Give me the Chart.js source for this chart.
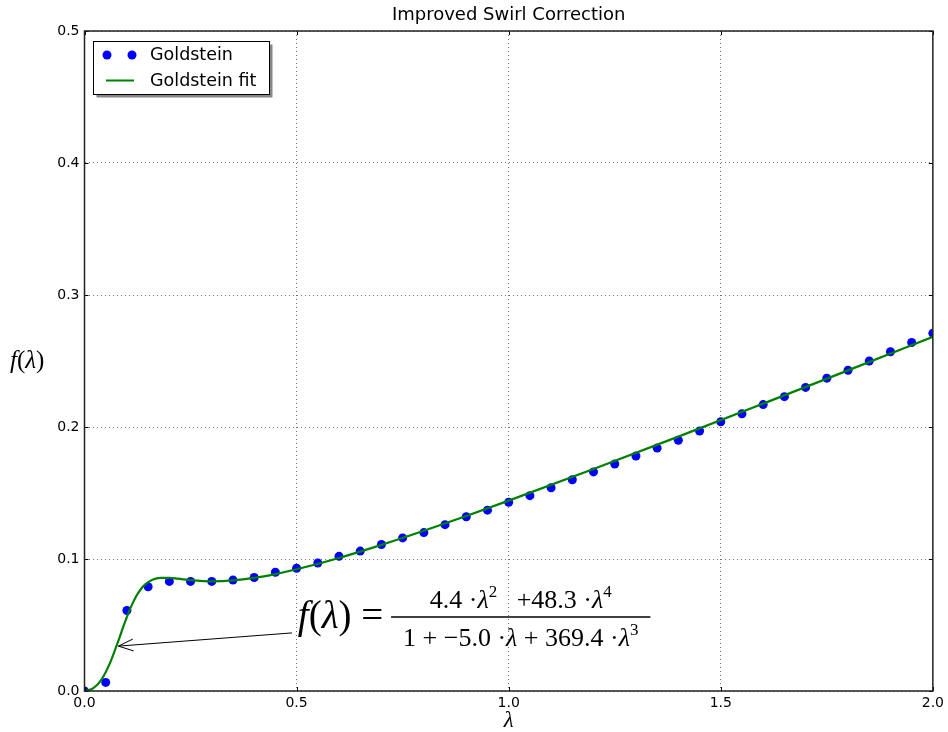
<!DOCTYPE html>
<html>
<head>
<meta charset="utf-8">
<title>Improved Swirl Correction</title>
<script src="https://cdn.jsdelivr.net/npm/chart.js@4.4.0/dist/chart.umd.min.js"></script>
<style>
  html, body { margin: 0; padding: 0; background: #fff; }
</style>
</head>
<body>
<canvas id="swirlChart" width="948" height="732"></canvas>
<script>
// Goldstein data points
const goldLambda = [0.00, 0.05, 0.10, 0.15, 0.20, 0.25, 0.30, 0.35, 0.40, 0.45, 0.50,
  0.55, 0.60, 0.65, 0.70, 0.75, 0.80, 0.85, 0.90, 0.95, 1.00,
  1.05, 1.10, 1.15, 1.20, 1.25, 1.30, 1.35, 1.40, 1.45, 1.50,
  1.55, 1.60, 1.65, 1.70, 1.75, 1.80, 1.85, 1.90, 1.95, 2.00];
const goldValues = [0.000, 0.0065, 0.061, 0.079, 0.083, 0.083, 0.083, 0.084, 0.086, 0.090, 0.093,
  0.097, 0.102, 0.106, 0.111, 0.116, 0.120, 0.126, 0.132, 0.137, 0.143,
  0.148, 0.154, 0.160, 0.166, 0.172, 0.178, 0.184, 0.190, 0.197, 0.204,
  0.210, 0.217, 0.223, 0.230, 0.237, 0.243, 0.250, 0.257, 0.264, 0.271];

// fitted curve
const fitLambda = [0.00, 0.02, 0.04, 0.06, 0.08, 0.09, 0.10, 0.11, 0.12, 0.13, 0.14, 0.16, 0.18,
  0.20, 0.22, 0.25, 0.30, 0.35, 0.40, 0.45, 0.50, 0.60, 0.70, 0.80, 0.90,
  1.00, 1.20, 1.40, 1.60, 1.80, 2.00];
const fitValues = [0.000, 0.002, 0.0087, 0.0211, 0.0382, 0.0474, 0.0562, 0.0641, 0.0707, 0.0759, 0.0798, 0.0842, 0.0857,
  0.0857, 0.0851, 0.0840, 0.0831, 0.0838, 0.0857, 0.0886, 0.0922, 0.1008, 0.1107, 0.1214, 0.1326,
  0.1442, 0.1682, 0.1927, 0.2177, 0.2429, 0.2683];

const xTicks = [0.0, 0.5, 1.0, 1.5, 2.0];
const yTicks = [0.0, 0.1, 0.2, 0.3, 0.4, 0.5];

const seriesNames = ['Goldstein', 'Goldstein fit'];

const goldPoints = goldLambda.map(function(x, i) { return { x: x, y: goldValues[i] }; });
const fitPoints = fitLambda.map(function(x, i) { return { x: x, y: fitValues[i] }; });

const MATH = '"Liberation Serif", "DejaVu Serif", serif';
const SANS = '"DejaVu Sans", sans-serif';

// draw a run of [text, font, dy] pieces starting at x, returns end x
function drawRun(ctx, parts, x, y) {
  parts.forEach(function(p) {
    ctx.font = p[1];
    ctx.fillText(p[0], x, y + (p[2] || 0));
    x += ctx.measureText(p[0]).width;
  });
  return x;
}
function runWidth(ctx, parts) {
  let w = 0;
  parts.forEach(function(p) { ctx.font = p[1]; w += ctx.measureText(p[0]).width; });
  return w;
}

// axes frame, inward ticks, axis labels, legend and the formula annotation
const extrasPlugin = {
  id: 'extras',
  afterDraw: function(chart) {
    const ctx = chart.ctx;
    const a = chart.chartArea;
    const xs = chart.scales.x, ys = chart.scales.y;
    ctx.save();

    // inward tick marks
    ctx.strokeStyle = '#000';
    ctx.lineWidth = 1;
    ctx.beginPath();
    yTicks.forEach(function(v) {
      const py = Math.round(ys.getPixelForValue(v)) + 0.5;
      ctx.moveTo(a.left, py); ctx.lineTo(a.left + 4, py);
      ctx.moveTo(a.right, py); ctx.lineTo(a.right - 4, py);
    });
    xTicks.forEach(function(v) {
      const px = Math.round(xs.getPixelForValue(v)) + 0.5;
      ctx.moveTo(px, a.bottom); ctx.lineTo(px, a.bottom - 4);
      ctx.moveTo(px, a.top); ctx.lineTo(px, a.top + 4);
    });
    ctx.stroke();

    // frame
    ctx.strokeStyle = '#222';
    ctx.lineWidth = 1.5;
    ctx.strokeRect(a.left, a.top, a.right - a.left, a.bottom - a.top);

    // axis labels
    ctx.fillStyle = '#000';
    ctx.textBaseline = 'alphabetic';
    ctx.textAlign = 'left';
    const yl = [['f', 'italic 25px ' + MATH], ['(', '25px ' + MATH], ['λ', 'italic 25px ' + MATH], [')', '25px ' + MATH]];
    drawRun(ctx, yl, 10, 368);
    ctx.font = 'italic 23px ' + MATH;
    ctx.textAlign = 'center';
    ctx.fillText('λ', (a.left + a.right) / 2, 727);

    // legend
    const lx = 93.5, ly = 41.5, lw = 176, lh = 53;
    ctx.fillStyle = '#888';
    ctx.fillRect(lx + 3, ly + 3, lw, lh);
    ctx.fillStyle = '#fff';
    ctx.fillRect(lx, ly, lw, lh);
    ctx.strokeStyle = '#000';
    ctx.lineWidth = 1;
    ctx.strokeRect(lx, ly, lw, lh);
    const ds = chart.data.datasets;
    ctx.fillStyle = ds[0].backgroundColor;
    [107, 132].forEach(function(cx) {
      ctx.beginPath(); ctx.arc(cx, 55, 4.5, 0, Math.PI * 2); ctx.fill();
    });
    ctx.strokeStyle = ds[1].borderColor;
    ctx.lineWidth = 2;
    ctx.beginPath(); ctx.moveTo(106, 80.5); ctx.lineTo(134, 80.5); ctx.stroke();
    ctx.fillStyle = '#000';
    ctx.textAlign = 'left';
    ctx.textBaseline = 'middle';
    ctx.font = '17.5px ' + SANS;
    ctx.fillText(ds[0].label, 150, 55);
    ctx.fillText(ds[1].label, 150, 81);

    // annotation arrow
    const tipX = xs.getPixelForValue(0.08), tipY = ys.getPixelForValue(0.034);
    const sx = xs.getPixelForValue(0.489), sy = ys.getPixelForValue(0.044);
    ctx.strokeStyle = '#000';
    ctx.lineWidth = 1;
    ctx.beginPath(); ctx.moveTo(sx, sy); ctx.lineTo(tipX, tipY); ctx.stroke();
    const ang = Math.atan2(sy - tipY, sx - tipX);
    ctx.beginPath();
    ctx.moveTo(tipX + 16 * Math.cos(ang + 0.38), tipY + 16 * Math.sin(ang + 0.38));
    ctx.lineTo(tipX, tipY);
    ctx.lineTo(tipX + 16 * Math.cos(ang - 0.38), tipY + 16 * Math.sin(ang - 0.38));
    ctx.stroke();

    // formula
    const fx = xs.getPixelForValue(0.503), fy = ys.getPixelForValue(0.056);
    const big = '39px ' + MATH, bigI = 'italic 39px ' + MATH;
    const sm = '26px ' + MATH, smI = 'italic 26px ' + MATH, sup = '17px ' + MATH;
    ctx.textBaseline = 'alphabetic';
    ctx.textAlign = 'left';
    let ex = drawRun(ctx, [['f', bigI], ['(', big], ['λ', bigI], [')', big], [' = ', big]], fx, fy + 11);
    const num = [['4.4 ·', sm], ['λ', smI], ['2', sup, -11], ['   +48.3 ·', sm], ['λ', smI], ['4', sup, -11]];
    const den = [['1 + −5.0 ·', sm], ['λ', smI], [' + 369.4 ·', sm], ['λ', smI], ['3', sup, -11]];
    const nw = runWidth(ctx, num), dw = runWidth(ctx, den);
    const lineLen = Math.max(nw, dw) + 24;
    const lineStart = ex - 2;
    ctx.strokeStyle = '#000';
    ctx.lineWidth = 1.5;
    ctx.beginPath(); ctx.moveTo(lineStart, fy); ctx.lineTo(lineStart + lineLen, fy); ctx.stroke();
    const mid = lineStart + lineLen / 2;
    drawRun(ctx, num, mid - nw / 2, fy - 9);
    drawRun(ctx, den, mid - dw / 2, fy + 29);

    ctx.restore();
  }
};

const ctx = document.getElementById('swirlChart').getContext('2d');
const swirlChart = new Chart(ctx, {
  type: 'scatter',
  data: {
    datasets: [{
      label: seriesNames[0],
      data: goldPoints,
      backgroundColor: '#0000ff',
      borderColor: '#0000ff',
      pointRadius: 4.5,
      pointBorderWidth: 0,
      showLine: false,
      order: 2
    }, {
      label: seriesNames[1],
      data: fitPoints,
      borderColor: '#008000',
      backgroundColor: '#008000',
      borderWidth: 2.2,
      pointRadius: 0,
      showLine: true,
      cubicInterpolationMode: 'monotone',
      order: 1
    }]
  },
  options: {
    responsive: false,
    animation: false,
    layout: { padding: { left: 0, right: 13, top: 0, bottom: 0 } },
    plugins: {
      legend: { display: false },
      tooltip: { enabled: false },
      title: {
        display: true,
        fullSize: false,
        text: 'Improved Swirl Correction',
        color: '#000',
        font: { family: 'DejaVu Sans', size: 18, weight: 'normal' },
        padding: { top: 4.5, bottom: 4.9 }
      }
    },
    scales: {
      x: {
        type: 'linear',
        min: 0, max: 2,
        afterBuildTicks: function(axis) { axis.ticks = xTicks.map(function(v) { return { value: v }; }); },
        afterFit: function(axis) { axis.height = 41; },
        ticks: {
          color: '#000',
          font: { family: 'DejaVu Sans', size: 14 },
          padding: 4,
          maxRotation: 0,
          callback: function(v) { return v.toFixed(1); }
        },
        grid: { color: 'rgba(0,0,0,0.55)', lineWidth: 1, drawTicks: false },
        border: { display: false, dash: [1, 3] }
      },
      y: {
        type: 'linear',
        min: 0, max: 0.5,
        afterBuildTicks: function(axis) { axis.ticks = yTicks.map(function(v) { return { value: v }; }); },
        afterFit: function(axis) { axis.width = 84.5; },
        ticks: {
          color: '#000',
          font: { family: 'DejaVu Sans', size: 14 },
          padding: 5,
          callback: function(v) { return v.toFixed(1); }
        },
        grid: { color: 'rgba(0,0,0,0.55)', lineWidth: 1, drawTicks: false },
        border: { display: false, dash: [1, 3] }
      }
    }
  },
  plugins: [extrasPlugin]
});
</script>
</body>
</html>
